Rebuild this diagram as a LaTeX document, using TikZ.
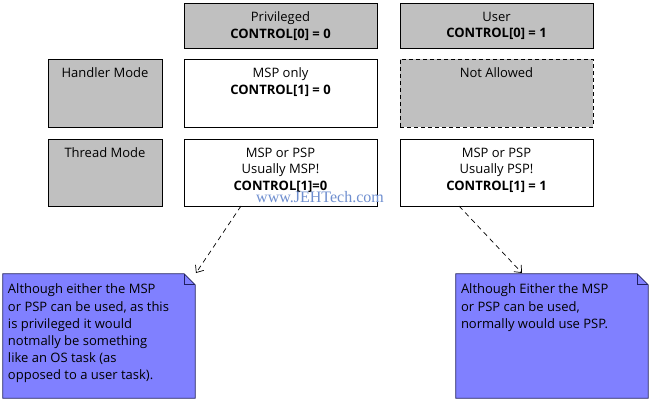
\documentclass[tikz,border=0pt]{standalone}
\usepackage{fontspec}
\setmainfont{Open Sans}
\newfontfamily\wmfont{Liberation Serif}
\usetikzlibrary{arrows.meta}
\definecolor{boxgray}{HTML}{C0C0C0}
\definecolor{notefill}{HTML}{8080FF}
\definecolor{noteline}{HTML}{202060}
\definecolor{wmblue}{HTML}{6F8FD0}
\tikzset{
  box/.style={draw=black, line width=0.8pt, rectangle, inner sep=0pt},
  graybox/.style={box, fill=boxgray},
  whitebox/.style={box, fill=white},
  dashbox/.style={box, fill=boxgray, dash pattern=on 4pt off 3pt},
  txt/.style={anchor=north, inner sep=0pt, align=center, font=\fontsize{13}{16.5}\selectfont},
  notetxt/.style={anchor=north west, inner sep=0pt, align=left, font=\fontsize{13}{17.2}\selectfont},
  noteshape/.style={fill=notefill, draw=noteline, line width=0.8pt},
  conn/.style={dash pattern=on 5pt off 4pt, line width=0.7pt, -{Straight Barb[length=6pt,width=10pt,line width=0.7pt]}},
}
\begin{document}
\begin{tikzpicture}[x=1pt,y=-1pt]
\useasboundingbox (0,0) rectangle (650,401);
% header row
\node[graybox, minimum width=193pt, minimum height=45pt] (priv) at (280.5,25.5) {};
\node[txt] at ([yshift=-9pt]priv.north) {Privileged\\\textbf{CONTROL[0] = 0}};
\node[graybox, minimum width=193pt, minimum height=45pt] (user) at (496.5,25.5) {};
\node[txt] at ([yshift=-9pt]user.north) {User\\\textbf{CONTROL[0] = 1}};
% handler row
\node[graybox, minimum width=114pt, minimum height=68pt] (hand) at (105,93) {};
\node[txt] at ([yshift=-9pt]hand.north) {Handler Mode};
\node[whitebox, minimum width=193pt, minimum height=68pt] (msp) at (280.5,93) {};
\node[txt] at ([yshift=-9pt]msp.north) {MSP only\\\textbf{CONTROL[1] = 0}};
\node[dashbox, minimum width=193pt, minimum height=68pt] (na) at (496.5,93) {};
\node[txt] at ([yshift=-9pt]na.north) {Not Allowed};
% thread row
\node[graybox, minimum width=114pt, minimum height=67pt] (thr) at (105,172.5) {};
\node[txt] at ([yshift=-9pt]thr.north) {Thread Mode};
\node[whitebox, minimum width=193pt, minimum height=67pt] (tl) at (280.5,172.5) {};
\node[txt] at ([yshift=-9pt]tl.north) {MSP or PSP\\Usually MSP!\\\textbf{CONTROL[1]=0}};
\node[whitebox, minimum width=193pt, minimum height=67pt] (tr) at (496.5,172.5) {};
\node[txt] at ([yshift=-9pt]tr.north) {MSP or PSP\\Usually PSP!\\\textbf{CONTROL[1] = 1}};
% watermark
\node[inner sep=0pt, text=wmblue, font=\wmfont\fontsize{16}{18}\selectfont] (wm) at (320,197) {www.JEHTech.com};
% notes
\node[minimum width=192pt, minimum height=124pt, inner sep=0pt] (nl) at (99,336) {};
\draw[noteshape] (nl.north west) -- ([xshift=-11pt]nl.north east) -- ([yshift=-11pt]nl.north east) -- (nl.south east) -- (nl.south west) -- cycle;
\draw[noteline, line width=0.8pt] ([xshift=-11pt]nl.north east) -- ([xshift=-11pt,yshift=-11pt]nl.north east) -- ([yshift=-11pt]nl.north east);
\node[notetxt] at ([xshift=5pt,yshift=-10pt]nl.north west) {Although either the MSP\\or PSP can be used, as this\\is privileged it would\\notmally be something\\like an OS task (as\\opposed to a user task).};
\node[minimum width=192pt, minimum height=124pt, inner sep=0pt] (nr) at (552,336) {};
\draw[noteshape] (nr.north west) -- ([xshift=-11pt]nr.north east) -- ([yshift=-11pt]nr.north east) -- (nr.south east) -- (nr.south west) -- cycle;
\draw[noteline, line width=0.8pt] ([xshift=-11pt]nr.north east) -- ([xshift=-11pt,yshift=-11pt]nr.north east) -- ([yshift=-11pt]nr.north east);
\node[notetxt] at ([xshift=5pt,yshift=-10pt]nr.north west) {Although Either the MSP\\or PSP can be used,\\normally would use PSP.};
% connectors
\coordinate (ls) at (241,206);
\coordinate (le) at (196,273);
\coordinate (rs) at (459,206);
\coordinate (re) at (522,273);
\draw[conn] (ls) -- (le);
\draw[conn] (rs) -- (re);
\end{tikzpicture}
\end{document}
